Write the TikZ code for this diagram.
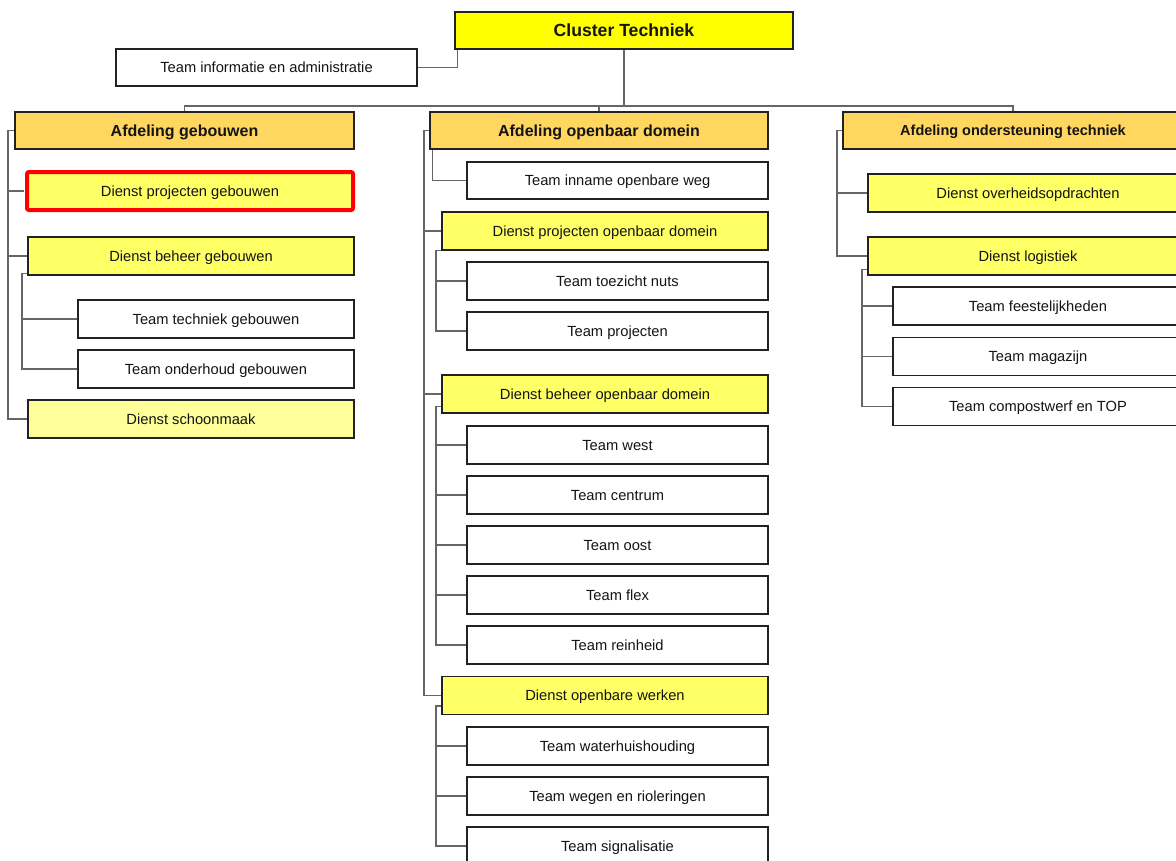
\documentclass[tikz,border=0pt]{standalone}
\usepackage{fontspec}
\setmainfont{Liberation Sans}
\definecolor{afdfill}{HTML}{FFD65F}
\definecolor{dienstfill}{HTML}{FFFF66}
\definecolor{lightfill}{HTML}{FFFF99}
\definecolor{clusterfill}{HTML}{FFFF00}
\definecolor{conn}{HTML}{666666}
\definecolor{edge}{HTML}{222222}
\definecolor{redline}{HTML}{FF0000}
\begin{document}
\begin{tikzpicture}[x=1pt,y=-1pt,
  box/.style={draw=edge,line width=1.1pt,inner sep=0pt,minimum height=38pt,font=\fontsize{14.7}{17}\selectfont,text=black!92,text height=10.5pt,text depth=0pt},
  teambox/.style={box,fill=white},
  dienstbox/.style={box,fill=dienstfill},
  afdbox/.style={box,fill=afdfill,minimum height=37pt,font=\fontsize{16}{19}\selectfont\bfseries,text height=11.5pt},
  link/.style={draw=conn,line width=1.4pt}
]
\useasboundingbox (0,0) rectangle (1176,860);
% top
\node[box,fill=clusterfill,minimum width=338pt,minimum height=37pt,font=\fontsize{17.6}{20}\selectfont\bfseries,text height=12.6pt] (cluster) at (624,30.5) {Cluster Techniek};
\node[teambox,minimum width=301pt,minimum height=37pt] (info) at (266.5,67.5) {Team informatie en administratie};
% left column
\node[afdbox,minimum width=339pt] (afd1) at (184.5,130.5) {Afdeling gebouwen};
\node[dienstbox,draw=redline,line width=4pt,rounded corners=2pt,minimum width=326pt] (dpg) at (190,191) {Dienst projecten gebouwen};
\node[dienstbox,minimum width=326pt] (dbg) at (191,256) {Dienst beheer gebouwen};
\node[teambox,minimum width=276pt] (ttg) at (216,319) {Team techniek gebouwen};
\node[teambox,minimum width=276pt] (tog) at (216,369) {Team onderhoud gebouwen};
\node[box,fill=lightfill,minimum width=326pt] (dsm) at (191,419) {Dienst schoonmaak};
% middle column
\node[afdbox,minimum width=338pt] (afd2) at (599,130.5) {Afdeling openbaar domein};
\node[teambox,minimum width=301pt,minimum height=37pt] (tiow) at (617.5,180.5) {Team inname openbare weg};
\node[dienstbox,minimum width=326pt] (dpod) at (605,231) {Dienst projecten openbaar domein};
\node[teambox,minimum width=301pt] (ttn) at (617.5,281) {Team toezicht nuts};
\node[teambox,minimum width=301pt] (tp) at (617.5,331) {Team projecten};
\node[dienstbox,minimum width=326pt] (dbod) at (605,394) {Dienst beheer openbaar domein};
\node[teambox,minimum width=301pt] (tw) at (617.5,445) {Team west};
\node[teambox,minimum width=301pt] (tc) at (617.5,495) {Team centrum};
\node[teambox,minimum width=301pt] (to) at (617.5,545) {Team oost};
\node[teambox,minimum width=301pt] (tf) at (617.5,595) {Team flex};
\node[teambox,minimum width=301pt] (tr) at (617.5,645) {Team reinheid};
\node[dienstbox,minimum width=326pt] (dow) at (605,695.5) {Dienst openbare werken};
\node[teambox,minimum width=301pt] (twh) at (617.5,746) {Team waterhuishouding};
\node[teambox,minimum width=301pt] (twr) at (617.5,796) {Team wegen en rioleringen};
\node[teambox,minimum width=301pt] (ts) at (617.5,846) {Team signalisatie};
% right column
\node[afdbox,minimum width=340pt,font=\fontsize{14.5}{17}\selectfont\bfseries,text height=10.4pt] (afd3) at (1013,130.5) {Afdeling ondersteuning techniek};
\node[dienstbox,minimum width=320pt] (dov) at (1028,193) {Dienst overheidsopdrachten};
\node[dienstbox,minimum width=320pt] (dlog) at (1028,256) {Dienst logistiek};
\node[teambox,minimum width=290pt] (tfe) at (1038,306) {Team feestelijkheden};
\node[teambox,minimum width=290pt] (tma) at (1038,356.5) {Team magazijn};
\node[teambox,minimum width=290pt] (tco) at (1038,406.5) {Team compostwerf en TOP};
% connector rails
\coordinate (bus) at (624,106);
\coordinate (r1) at (8,0);
\coordinate (r2) at (22,0);
\coordinate (r3) at (424,0);
\coordinate (r5) at (436,0);
\coordinate (r6) at (837,0);
\coordinate (r7) at (862,0);
% connectors top
\draw[link] (info.east) -| ([xshift=3pt]cluster.south west);
\draw[link] (cluster.south) -- (bus);
\draw[link] (afd1.north) |- (bus) -| (afd3.north);
\draw[link] (afd2.north) |- (bus);
% left
\draw[link] (afd1.west) -| (r1 |- dsm.west) -- (dsm.west);
\draw[link] (r1 |- dpg.west) -- ([xshift=-1pt]dpg.west);
\draw[link] (r1 |- dbg.west) -- (dbg.west);
\draw[link] ([yshift=2pt]dbg.south west) -| (r2 |- tog.west) -- (tog.west);
\draw[link] (r2 |- ttg.west) -- (ttg.west);
% middle
\draw[link] (afd2.west) -| (r3 |- dow.west) -- (dow.west);
\draw[link] (r3 |- dpod.west) -- (dpod.west);
\draw[link] (r3 |- dbod.west) -- (dbod.west);
\draw[link] ([xshift=3pt]afd2.south west) |- (tiow.west);
\draw[link] (dpod.south west) -| (r5 |- tp.west) -- (tp.west);
\draw[link] (r5 |- ttn.west) -- (ttn.west);
\draw[link] ([yshift=7pt]dbod.south west) -| (r5 |- tr.west) -- (tr.west);
\draw[link] (r5 |- tw.west) -- (tw.west);
\draw[link] (r5 |- tc.west) -- (tc.west);
\draw[link] (r5 |- to.west) -- (to.west);
\draw[link] (r5 |- tf.west) -- (tf.west);
\draw[link] ([yshift=9pt]dow.south west) -| (r5 |- ts.west) -- (ts.west);
\draw[link] (r5 |- twh.west) -- (twh.west);
\draw[link] (r5 |- twr.west) -- (twr.west);
% right
\draw[link] (afd3.west) -| (r6 |- dlog.west) -- (dlog.west);
\draw[link] (r6 |- dov.west) -- (dov.west);
\draw[link] ([yshift=6pt]dlog.south west) -| (r7 |- tco.west) -- (tco.west);
\draw[link] (r7 |- tfe.west) -- (tfe.west);
\draw[link] (r7 |- tma.west) -- (tma.west);
\end{tikzpicture}
\end{document}
